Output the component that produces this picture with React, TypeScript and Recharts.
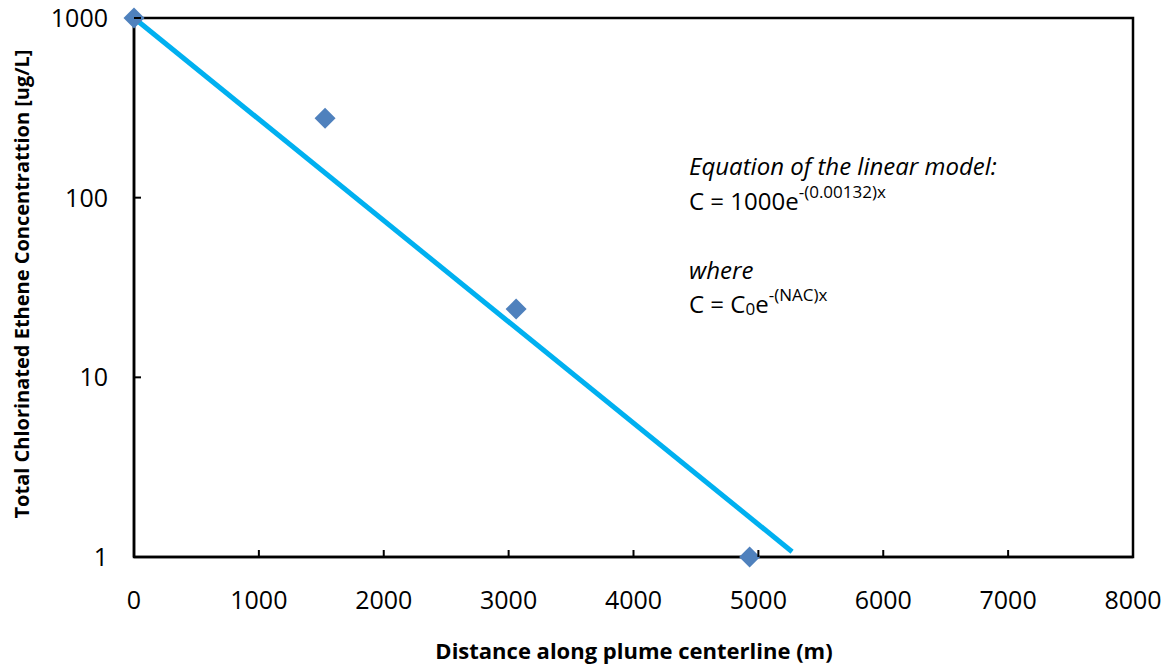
import React from "react";
import {
  ScatterChart,
  Scatter,
  XAxis,
  YAxis,
  ReferenceArea,
} from "recharts";

// Measured total chlorinated ethenes along the plume centerline
const distance = [0, 1530, 3060, 4930];
const concentration = [1000, 277, 24, 1];

// Fitted decay line endpoints
const trendDistance = [0, 5270];
const trendConcentration = [1000, 1.07];

const xTicks = [0, 1000, 2000, 3000, 4000, 5000, 6000, 7000, 8000];
const yTicks = [1, 10, 100, 1000];

const points = distance.map((x, i) => ({ x, y: concentration[i] }));
const trend = trendDistance.map((x, i) => ({ x, y: trendConcentration[i] }));

const W = 1167;
const H = 668;
const FONT = "'Open Sans', Lato, sans-serif";

function Diamond(props: any) {
  const { cx, cy } = props;
  const r = 10.5;
  return (
    <polygon
      points={`${cx},${cy - r} ${cx + r},${cy} ${cx},${cy + r} ${cx - r},${cy}`}
      fill="#4F81BD"
    />
  );
}

function XTick(props: any) {
  const { x, y, payload } = props;
  return (
    <g>
      <line x1={x} y1={y} x2={x} y2={y - 7} stroke="#000" strokeWidth={2} />
      <text
        x={x}
        y={y + 52}
        textAnchor="middle"
        fontSize={25}
        fontFamily={FONT}
        fill="#000"
      >
        {payload.value}
      </text>
    </g>
  );
}

function YTick(props: any) {
  const { x, y, payload } = props;
  return (
    <g>
      <line x1={x} y1={y} x2={x + 7} y2={y} stroke="#000" strokeWidth={2} />
      <text
        x={x - 26}
        y={y + 9}
        textAnchor="end"
        fontSize={25}
        fontFamily={FONT}
        fill="#000"
      >
        {payload.value}
      </text>
    </g>
  );
}

function Annotation() {
  const base = { fontFamily: FONT, fontSize: 24, fill: "#000" };
  return (
    <svg
      width={W}
      height={H}
      style={{ position: "absolute", left: 0, top: 0, pointerEvents: "none" }}
    >
      <text x={689} y={175} {...base} fontStyle="italic">
        Equation of the linear model:
      </text>
      <text x={689} y={210} {...base}>
        C = 1000e
        <tspan fontSize={17} dy={-12}>
          -(0.00132)x
        </tspan>
      </text>
      <text x={689} y={279} {...base} fontStyle="italic">
        where
      </text>
      <text x={689} y={313} {...base}>
        C = C
        <tspan fontSize={17} dy={2}>
          0
        </tspan>
        <tspan dy={-2}>e</tspan>
        <tspan fontSize={17} dy={-12}>
          -(NAC)x
        </tspan>
      </text>
      <text
        x={634}
        y={659}
        textAnchor="middle"
        fontFamily={FONT}
        fontSize={22}
        fontWeight="bold"
        fill="#000"
      >
        Distance along plume centerline (m)
      </text>
      <text
        x={29}
        y={284}
        textAnchor="middle"
        fontFamily={FONT}
        fontSize={20}
        fontWeight="bold"
        fill="#000"
        transform="rotate(-90 29 284)"
      >
        Total Chlorinated Ethene Concentrattion [ug/L]
      </text>
    </svg>
  );
}

export default function App() {
  return (
    <div
      style={{
        position: "absolute",
        left: 0,
        top: 0,
        width: W,
        height: H,
        background: "#fff",
      }}
    >
      <ScatterChart
        width={W}
        height={H}
        margin={{ top: 18, right: 34, left: 0, bottom: 0 }}
      >
        <XAxis
          type="number"
          dataKey="x"
          domain={[0, 8000]}
          ticks={xTicks}
          height={111}
          tickLine={false}
          tickSize={0}
          tickMargin={0}
          axisLine={{ stroke: "#000", strokeWidth: 2.5 }}
          tick={<XTick />}
          interval={0}
        />
        <YAxis
          type="number"
          dataKey="y"
          scale="log"
          domain={[1, 1000]}
          ticks={yTicks}
          width={134}
          tickLine={false}
          tickSize={0}
          tickMargin={0}
          axisLine={{ stroke: "#000", strokeWidth: 2.5 }}
          tick={<YTick />}
          interval={0}
        />
        <ReferenceArea
          x1={0}
          x2={8000}
          y1={1}
          y2={1000}
          fill="none"
          stroke="#000"
          strokeWidth={2.5}
          fillOpacity={0}
        />
        <Scatter
          data={trend}
          line={{ stroke: "#00B0F0", strokeWidth: 5 }}
          shape={() => <g />}
          isAnimationActive={false}
        />
        <Scatter
          data={points}
          shape={<Diamond />}
          isAnimationActive={false}
        />
      </ScatterChart>
      <Annotation />
    </div>
  );
}
